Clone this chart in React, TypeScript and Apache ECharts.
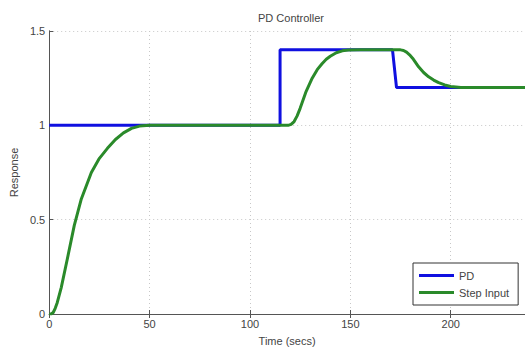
import React, { useEffect, useRef } from "react";
import * as echarts from "echarts";

const titleText = "PD Controller";
const xName = "Time (secs)";
const yName = "Response";
const legendNames = ["PD", "Step Input"];

// Blue reference (step) signal
const pdPoints: [number, number][] = [
  [0, 1], [115, 1], [115, 1.4], [171, 1.4], [173, 1.2], [237, 1.2],
];

// Green response
const stepPoints: [number, number][] = [
  [0, 0], [1, 0], [2, 0.008], [3, 0.03], [4, 0.06], [6, 0.14], [9, 0.29],
  [12.5, 0.47], [16, 0.61], [21, 0.75], [25, 0.825], [29, 0.878], [33, 0.925],
  [37, 0.96], [41, 0.984], [45, 0.996], [50, 1], [119, 1], [120.5, 1.005],
  [122, 1.02], [123.5, 1.05], [125, 1.09], [128, 1.18], [131, 1.25],
  [133.5, 1.295], [136, 1.328], [138, 1.35], [140, 1.366], [143, 1.385],
  [146, 1.395], [149, 1.399], [155, 1.4], [175, 1.4], [176.5, 1.397],
  [178, 1.388], [179.5, 1.374], [181, 1.356], [184, 1.31], [186.5, 1.28],
  [189, 1.257], [191.5, 1.24], [194, 1.226], [197, 1.214], [200, 1.206],
  [205, 1.2], [237, 1.2],
];

const xMin = 0;
const xMax = 237;
const xInterval = 50;
const yMin = 0;
const yMax = 1.5;
const yInterval = 0.5;

export default function App() {
  const ref = useRef<HTMLDivElement>(null);
  useEffect(() => {
    if (!ref.current) return;
    const chart = echarts.init(ref.current, undefined, { renderer: "svg" });
    const font = "Liberation Sans, Arial, sans-serif";
    const axisColor = "#555";
    const textColor = "#444";
    chart.setOption({
      animation: false,
      backgroundColor: "#fff",
      title: {
        text: titleText,
        left: 253,
        top: 7,
        textStyle: { fontFamily: font, fontSize: 11, fontWeight: "normal", color: textColor },
      },
      grid: { left: 48, right: -1, top: 31, bottom: 35 },
      legend: {
        data: legendNames,
        orient: "vertical",
        left: 413,
        top: 263,
        icon: "rect",
        itemWidth: 35,
        itemHeight: 3,
        itemGap: 4,
        padding: [6, 9, 6, 6],
        borderColor: "#333",
        borderWidth: 1,
        backgroundColor: "#fff",
        textStyle: { fontFamily: font, fontSize: 11, color: textColor, lineHeight: 13, padding: [0, 0, 0, 0] },
      },
      xAxis: [
        {
          type: "value",
          min: xMin,
          max: xMax,
          interval: xInterval,
          name: xName,
          nameLocation: "middle",
          nameGap: 21,
          nameTextStyle: { fontFamily: font, fontSize: 11, color: textColor },
          axisLine: { show: true, lineStyle: { color: axisColor, width: 1 } },
          axisTick: { show: true, inside: true, length: 4, lineStyle: { color: axisColor } },
          axisLabel: { fontFamily: font, fontSize: 11, color: textColor, margin: 4, showMaxLabel: false },
          splitLine: { show: true, lineStyle: { color: "#c8c8c8", type: [1, 3] } },
        },
        {
          type: "value",
          position: "top",
          min: xMin,
          max: xMax,
          interval: xInterval,
          axisLine: { show: true, lineStyle: { color: axisColor, width: 1 } },
          axisTick: { show: true, inside: true, length: 4, lineStyle: { color: axisColor } },
          axisLabel: { show: false },
          splitLine: { show: false },
        },
      ],
      yAxis: [
        {
          type: "value",
          min: yMin,
          max: yMax,
          interval: yInterval,
          name: yName,
          nameLocation: "middle",
          nameGap: 29,
          nameTextStyle: { fontFamily: font, fontSize: 11, color: textColor },
          axisLine: { show: true, lineStyle: { color: axisColor, width: 1 } },
          axisTick: { show: true, inside: true, length: 4, lineStyle: { color: axisColor } },
          axisLabel: { fontFamily: font, fontSize: 11, color: textColor, margin: 4 },
          splitLine: { show: true, lineStyle: { color: "#c8c8c8", type: [1, 3] } },
        },
        {
          type: "value",
          position: "right",
          min: yMin,
          max: yMax,
          interval: yInterval,
          axisLine: { show: true, lineStyle: { color: axisColor, width: 1 } },
          axisTick: { show: false },
          axisLabel: { show: false },
          splitLine: { show: false },
        },
      ],
      series: [
        {
          name: legendNames[0],
          type: "line",
          data: pdPoints,
          showSymbol: false,
          symbol: "none",
          lineStyle: { color: "#1010e0", width: 3 },
          itemStyle: { color: "#1010e0" },
          z: 2,
        },
        {
          name: legendNames[1],
          type: "line",
          data: stepPoints,
          showSymbol: false,
          symbol: "none",
          lineStyle: { color: "#2a8a2a", width: 3, join: "round" },
          itemStyle: { color: "#2a8a2a" },
          z: 3,
        },
      ],
    });
    return () => chart.dispose();
  }, []);
  return (
    <div
      ref={ref}
      style={{ position: "absolute", left: 0, top: 0, width: 525, height: 351 }}
    />
  );
}
